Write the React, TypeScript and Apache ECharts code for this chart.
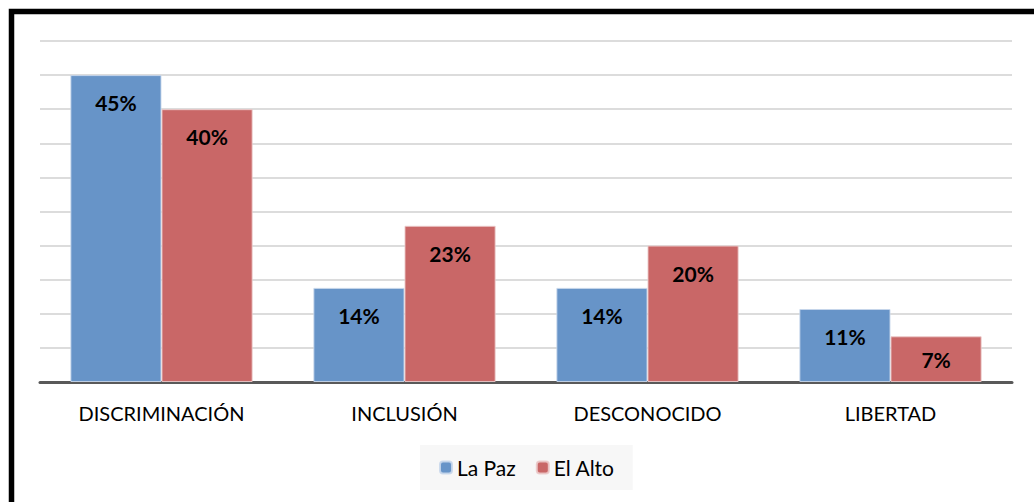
import React, { useEffect, useRef } from "react";
import * as echarts from "echarts";

const categories = ["DISCRIMINACIÓN", "INCLUSIÓN", "DESCONOCIDO", "LIBERTAD"];
const laPaz = [45, 13.8, 13.8, 10.7];
const elAlto = [40, 22.9, 20, 6.7];
const seriesNames = ["La Paz", "El Alto"];

const FONT = "Lato, 'Open Sans', sans-serif";

export default function App() {
  const ref = useRef<HTMLDivElement>(null);
  useEffect(() => {
    if (!ref.current) return;
    const chart = echarts.init(ref.current, null, { renderer: "svg" });
    const mkData = (vals: number[]) =>
      vals.map((v) =>
        v < 8
          ? { value: v, label: { position: "inside" as const } }
          : { value: v }
      );
    const label = {
      show: true,
      position: "insideTop" as const,
      distance: 17,
      formatter: (p: any) => Math.round(p.value) + "%",
      fontFamily: FONT,
      fontWeight: "bold" as const,
      fontSize: 21,
      color: "#000",
    };
    chart.setOption({
      animation: false,
      backgroundColor: "#fff",
      graphic: [
        {
          type: "rect",
          shape: { x: 11.5, y: 11.5, width: 1100, height: 600 },
          style: { fill: "none", stroke: "#000", lineWidth: 5.5 },
          z: 100,
        },
      ],
      grid: { left: 40, right: 22, top: 41, bottom: 120 },
      legend: {
        bottom: 12,
        left: 420,
        itemWidth: 12,
        itemHeight: 12,
        itemGap: 20,
        backgroundColor: "#f7f7f7",
        padding: [12, 18, 12, 19],
        textStyle: { fontFamily: FONT, fontSize: 21, color: "#000" },
        data: seriesNames,
      },
      xAxis: {
        type: "category",
        data: categories,
        axisLine: { lineStyle: { color: "#595959", width: 3 } },
        axisTick: { show: false },
        axisLabel: {
          fontFamily: FONT,
          fontSize: 20,
          color: "#000",
          margin: 21,
        },
      },
      yAxis: {
        type: "value",
        min: 0,
        max: 50,
        interval: 5,
        axisLabel: { show: false },
        axisLine: { show: false },
        axisTick: { show: false },
        splitLine: { lineStyle: { color: "#d0d0d0", width: 1.5 } },
      },
      series: [
        {
          name: seriesNames[0],
          type: "bar",
          data: mkData(laPaz),
          barGap: "0%",
          barCategoryGap: "25%",
          itemStyle: {
            color: "#6794C8",
            borderColor: "rgba(200,215,235,0.9)",
            borderWidth: 1,
          },
          label,
        },
        {
          name: seriesNames[1],
          type: "bar",
          data: mkData(elAlto),
          itemStyle: {
            color: "#C96767",
            borderColor: "rgba(235,200,200,0.9)",
            borderWidth: 1,
          },
          label,
        },
      ],
    });
    return () => chart.dispose();
  }, []);
  return (
    <div
      ref={ref}
      style={{ position: "fixed", left: 0, top: 0, width: 1034, height: 502 }}
    />
  );
}
